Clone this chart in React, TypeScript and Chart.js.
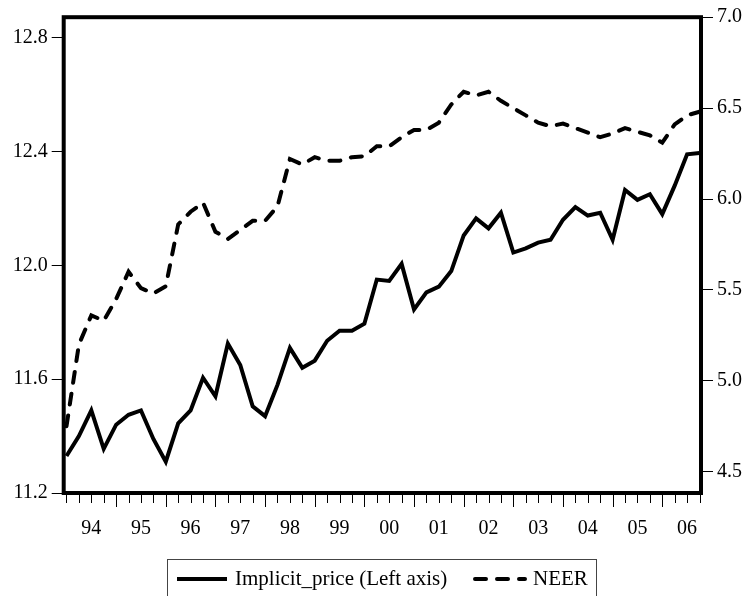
import React, { useEffect, useRef } from "react";
import { Chart, registerables } from "chart.js";

Chart.register(...registerables);

// Quarterly observations 1994Q1 - 2006Q4
const YEAR_LABELS = ["94", "95", "96", "97", "98", "99", "00", "01", "02", "03", "04", "05", "06"];
const QUARTERS_PER_YEAR = 4;

const IMPLICIT_PRICE = [
  11.33, 11.40, 11.49, 11.355, 11.44, 11.475, 11.49, 11.39, 11.31, 11.445, 11.49, 11.605, 11.54,
  11.725, 11.65, 11.505, 11.47, 11.58, 11.71, 11.64, 11.665, 11.735, 11.77, 11.77, 11.795, 11.95,
  11.945, 12.005, 11.845, 11.905, 11.925, 11.98, 12.105, 12.165, 12.13, 12.185, 12.045, 12.06, 12.08,
  12.09, 12.16, 12.205, 12.175, 12.185, 12.09, 12.265, 12.23, 12.25, 12.18, 12.28, 12.39, 12.395,
];

const NEER = [
  4.75, 5.20, 5.36, 5.33, 5.45, 5.60, 5.51, 5.48, 5.52, 5.86, 5.93, 5.98, 5.82,
  5.78, 5.83, 5.88, 5.88, 5.96, 6.22, 6.19, 6.23, 6.21, 6.21, 6.23, 6.235, 6.29,
  6.29, 6.34, 6.38, 6.38, 6.42, 6.52, 6.59, 6.57, 6.59, 6.54, 6.50, 6.46, 6.42,
  6.40, 6.415, 6.39, 6.365, 6.34, 6.36, 6.39, 6.37, 6.35, 6.31, 6.41, 6.46, 6.48,
];

const LEFT_TICKS = [11.2, 11.6, 12.0, 12.4, 12.8];
const RIGHT_TICKS = [4.5, 5.0, 5.5, 6.0, 6.5, 7.0];
const SERIES_NAMES = ["Implicit_price (Left axis)", "NEER"];

const FONT_FAMILY = '"Liberation Serif", "Times New Roman", serif';

const framePlugin = {
  id: "evFrame",
  afterDatasetsDraw(chart: any) {
    const { ctx, chartArea: a, scales } = chart;
    const xs = scales.x;
    ctx.save();
    // quarter tick marks
    ctx.strokeStyle = "#000";
    ctx.lineWidth = 1;
    for (let i = 0; i < IMPLICIT_PRICE.length; i++) {
      const px = Math.round(xs.getPixelForValue(i)) + 0.5;
      const major = i > 0 && i % QUARTERS_PER_YEAR === 0;
      ctx.beginPath();
      ctx.moveTo(px, a.bottom);
      ctx.lineTo(px, a.bottom + (major ? 14 : 10));
      ctx.stroke();
    }
    // frame
    ctx.lineWidth = 4;
    ctx.strokeRect(a.left, a.top, a.right - a.left, a.bottom - a.top);
    ctx.restore();
  },
  afterDraw(chart: any) {
    const { ctx } = chart;
    const ds = chart.data.datasets;
    ctx.save();
    // legend box
    ctx.strokeStyle = "#444";
    ctx.lineWidth = 1;
    ctx.strokeRect(167.5, 559.5, 429, 60);
    const ly = 579;
    // solid sample
    ctx.strokeStyle = "#000";
    ctx.lineWidth = 4;
    ctx.setLineDash([]);
    ctx.beginPath();
    ctx.moveTo(177, ly);
    ctx.lineTo(227, ly);
    ctx.stroke();
    // dashed sample
    ctx.lineCap = "round";
    ctx.setLineDash([11, 11]);
    ctx.beginPath();
    ctx.moveTo(475, ly);
    ctx.lineTo(525, ly);
    ctx.stroke();
    ctx.setLineDash([]);
    ctx.fillStyle = "#000";
    ctx.font = `21px ${FONT_FAMILY}`;
    ctx.textBaseline = "middle";
    ctx.textAlign = "left";
    ctx.fillText(ds[0].label, 235, ly);
    ctx.fillText(ds[1].label, 533, ly);
    ctx.restore();
  },
};

export default function App() {
  const canvasRef = useRef<HTMLCanvasElement | null>(null);

  useEffect(() => {
    if (!canvasRef.current) return;
    const tickFont = { family: FONT_FAMILY, size: 20 };
    const chart = new Chart(canvasRef.current, {
      type: "line",
      data: {
        datasets: [
          {
            label: SERIES_NAMES[0],
            data: IMPLICIT_PRICE.map((v, i) => ({ x: i, y: v })),
            yAxisID: "y",
            borderColor: "#000",
            borderWidth: 4,
            pointRadius: 0,
            tension: 0,
            borderJoinStyle: "miter",
          },
          {
            label: SERIES_NAMES[1],
            data: NEER.map((v, i) => ({ x: i, y: v })),
            yAxisID: "y1",
            borderColor: "#000",
            borderWidth: 4,
            borderDash: [11, 11],
            borderCapStyle: "round",
            pointRadius: 0,
            tension: 0,
          },
        ],
      },
      options: {
        animation: false,
        responsive: false,
        devicePixelRatio: 1,
        layout: { padding: { top: 17.2, left: 0, right: 0, bottom: 0 } },
        plugins: { legend: { display: false }, tooltip: { enabled: false } },
        scales: {
          x: {
            type: "linear",
            min: -0.225,
            max: 51.12,
            afterBuildTicks: (ax: any) => {
              ax.ticks = YEAR_LABELS.map((_, k) => ({ value: k * QUARTERS_PER_YEAR + (QUARTERS_PER_YEAR / 2) }));
            },
            afterFit: (s: any) => {
              s.height = 103;
            },
            grid: { display: false },
            border: { display: false },
            ticks: {
              autoSkip: false,
              maxRotation: 0,
              padding: 15.6,
              color: "#000",
              font: tickFont,
              callback: (_v: any, idx: number) => YEAR_LABELS[idx],
            },
          },
          y: {
            position: "left",
            min: 11.2,
            max: 12.872,
            afterBuildTicks: (ax: any) => {
              ax.ticks = LEFT_TICKS.map((v) => ({ value: v }));
            },
            afterFit: (s: any) => {
              s.width = 63.7;
            },
            grid: { drawOnChartArea: false, drawTicks: true, tickLength: 12, tickColor: "#000", tickWidth: 1 },
            border: { display: false },
            ticks: {
              padding: 4,
              color: "#000",
              font: tickFont,
              callback: (v: any) => Number(v).toFixed(1),
            },
          },
          y1: {
            position: "right",
            min: 4.383,
            max: 7.0,
            afterBuildTicks: (ax: any) => {
              ax.ticks = RIGHT_TICKS.map((v) => ({ value: v }));
            },
            afterFit: (s: any) => {
              s.width = 47;
            },
            grid: { drawOnChartArea: false, drawTicks: true, tickLength: 12, tickColor: "#000", tickWidth: 1 },
            border: { display: false },
            ticks: {
              padding: 4,
              color: "#000",
              font: tickFont,
              callback: (v: any) => Number(v).toFixed(1),
            },
          },
        },
      },
      plugins: [framePlugin],
    } as any);
    return () => chart.destroy();
  }, []);

  return (
    <div style={{ position: "absolute", left: 0, top: 0, width: 748, height: 596, background: "#fff" }}>
      <canvas ref={canvasRef} width={748} height={596} style={{ display: "block" }} />
    </div>
  );
}
